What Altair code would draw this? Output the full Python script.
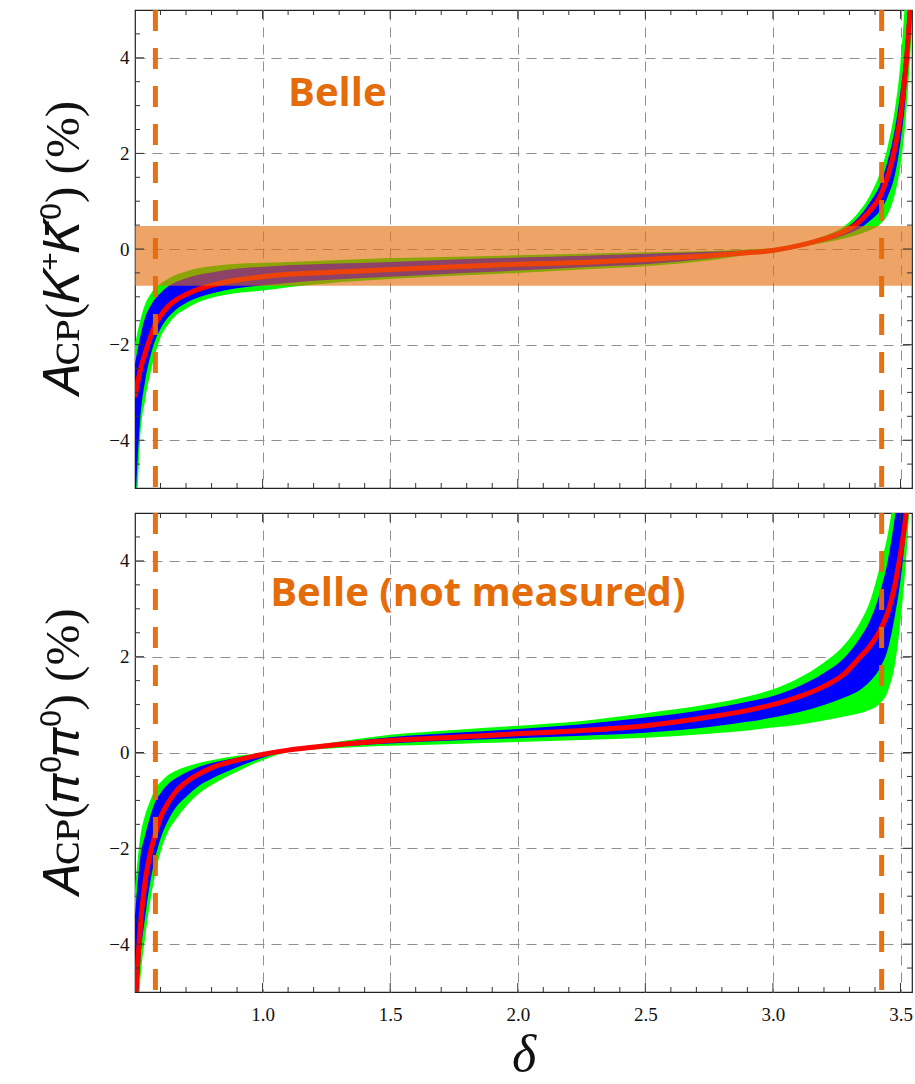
import altair as alt
import pandas as pd

# ---------------- data ----------------
delta = [0.50, 0.52, 0.54, 0.56, 0.58, 0.60, 0.63, 0.66, 0.70, 0.75, 0.80, 0.90,
         1.00, 1.10, 1.25, 1.50, 1.75, 2.00, 2.25, 2.50, 2.75, 2.90, 3.00, 3.10,
         3.20, 3.28, 3.34, 3.38, 3.42, 3.45, 3.48, 3.50, 3.52, 3.545]

# top panel: A_CP(K+ K0bar)
top_red = [-3.1, -2.55, -2.18, -1.85, -1.57, -1.40, -1.20, -1.07, -0.95, -0.84, -0.76, -0.65,
           -0.58, -0.53, -0.49, -0.43, -0.37, -0.32, -0.28, -0.22, -0.14, -0.08, -0.03, 0.07,
           0.21, 0.37, 0.58, 0.80, 1.10, 1.52, 2.16, 2.80, 3.75, 5.6]
top_green_hi = [-2.0, -1.50, -1.15, -0.95, -0.81, -0.72, -0.62, -0.54, -0.47, -0.40, -0.36, -0.31,
                -0.29, -0.27, -0.24, -0.19, -0.16, -0.13, -0.10, -0.07, -0.04, -0.01, 0.02, 0.11,
                0.27, 0.48, 0.80, 1.12, 1.60, 2.15, 3.0, 3.9, 5.4, 8.0]
top_green_lo = [-6.5, -4.0, -3.15, -2.60, -2.18, -1.85, -1.58, -1.39, -1.25, -1.11, -1.02, -0.92,
                -0.87, -0.80, -0.72, -0.63, -0.56, -0.50, -0.43, -0.36, -0.24, -0.12, -0.05, 0.04,
                0.13, 0.22, 0.31, 0.39, 0.52, 0.72, 1.19, 1.75, 2.7, 4.6]
top_blue_hi = [-2.4, -1.85, -1.43, -1.20, -1.03, -0.92, -0.78, -0.69, -0.61, -0.54, -0.49, -0.41,
               -0.37, -0.34, -0.31, -0.27, -0.22, -0.18, -0.14, -0.10, -0.06, -0.03, 0.0, 0.09,
               0.24, 0.42, 0.69, 0.98, 1.35, 1.85, 2.58, 3.3, 4.3, 6.5]
top_blue_lo = [-5.5, -3.6, -2.75, -2.25, -1.90, -1.67, -1.43, -1.27, -1.13, -1.01, -0.93, -0.82,
               -0.76, -0.71, -0.65, -0.58, -0.51, -0.45, -0.38, -0.32, -0.20, -0.10, -0.04, 0.05,
               0.16, 0.29, 0.43, 0.59, 0.80, 1.10, 1.60, 2.25, 3.2, 5.5]

# bottom panel: A_CP(pi0 pi0)
bot_red = [-5.3, -3.70, -2.68, -2.10, -1.70, -1.36, -1.05, -0.82, -0.62, -0.45, -0.32, -0.16,
           -0.04, 0.05, 0.14, 0.25, 0.32, 0.39, 0.46, 0.56, 0.74, 0.88, 1.00, 1.16,
           1.38, 1.64, 1.98, 2.22, 2.55, 2.92, 3.55, 4.15, 4.9, 6.5]
bot_green_hi = [-2.85, -1.78, -1.30, -1.00, -0.75, -0.62, -0.47, -0.38, -0.30, -0.22, -0.16, -0.07,
                0.0, 0.08, 0.19, 0.37, 0.47, 0.56, 0.66, 0.82, 1.01, 1.17, 1.32, 1.55,
                1.88, 2.25, 2.70, 3.15, 3.90, 4.55, 5.6, 6.5, 8.0, 10.0]
bot_green_lo = [-7.0, -4.85, -3.85, -3.10, -2.52, -2.08, -1.65, -1.40, -1.12, -0.86, -0.68, -0.40,
                -0.16, 0.01, 0.08, 0.14, 0.18, 0.22, 0.26, 0.31, 0.39, 0.46, 0.52, 0.58,
                0.67, 0.75, 0.82, 0.89, 1.03, 1.27, 1.90, 2.75, 3.90, 6.0]
bot_blue_hi = [-3.4, -2.22, -1.72, -1.33, -1.02, -0.85, -0.66, -0.54, -0.42, -0.30, -0.22, -0.11,
               -0.02, 0.07, 0.17, 0.32, 0.41, 0.49, 0.59, 0.73, 0.91, 1.06, 1.18, 1.38,
               1.66, 1.98, 2.38, 2.75, 3.35, 4.0, 5.0, 5.9, 7.0, 9.0]
bot_blue_lo = [-6.5, -4.4, -3.42, -2.70, -2.18, -1.80, -1.42, -1.15, -0.93, -0.70, -0.55, -0.31,
               -0.11, 0.03, 0.11, 0.19, 0.25, 0.30, 0.35, 0.41, 0.53, 0.64, 0.73, 0.84,
               0.99, 1.15, 1.30, 1.48, 1.77, 2.15, 2.92, 3.6, 4.6, 6.5]

# Belle band (top panel) and vertical dashed lines
band_lo = [-0.77]
band_hi = [0.48]
vlines = [0.58, 3.426]

# annotation texts
top_note = ["Belle"]
top_note_x = [1.10]
top_note_y = [3.24]
bot_note = ["Belle (not measured)"]
bot_note_x = [1.03]
bot_note_y = [3.31]

# axis ticks
x_major = [1.0, 1.5, 2.0, 2.5, 3.0, 3.5]
x_minor = [0.6, 0.7, 0.8, 0.9, 1.1, 1.2, 1.3, 1.4, 1.6, 1.7, 1.8, 1.9, 2.1, 2.2, 2.3, 2.4,
           2.6, 2.7, 2.8, 2.9, 3.1, 3.2, 3.3, 3.4]
y_major = [-4, -2, 0, 2, 4]
y_minor = [-4.5, -3.5, -3, -2.5, -1.5, -1, -0.5, 0.5, 1, 1.5, 2.5, 3, 3.5, 4.5]

X_DOMAIN = [0.5, 3.545]
Y_DOMAIN = [-5, 5]

ORANGE = "#E46C0A"
W = 777
SERIF = "Liberation Serif"


def panel(red, ghi, glo, bhi, blo, ytitle, note, nx, ny, height, bottom, band):
    xs = alt.Scale(domain=X_DOMAIN, nice=False, zero=False)
    ys = alt.Scale(domain=Y_DOMAIN, nice=False, zero=False)
    if bottom:
        xaxis = alt.Axis(values=x_major, format=".1f", title="δ", labelPadding=13,
                         labelFont=SERIF, labelFontSize=19,
                         titleFont=SERIF, titleFontStyle="italic", titleFontSize=52,
                         titlePadding=5)
    else:
        xaxis = alt.Axis(values=x_major, labels=False, title=None)
    yaxis = alt.Axis(values=y_major, format="d", title=ytitle, labelPadding=6,
                     labelFont=SERIF, labelFontSize=19,
                     titleFont=SERIF, titleAngle=270, titleX=-57, titleY=height / 2,
                     titleBaseline="alphabetic", titleAlign="center", titleFontSize=49)

    def X(f):
        return alt.X(f, scale=xs, axis=xaxis)

    def Y(f):
        return alt.Y(f, scale=ys, axis=yaxis)

    df = pd.DataFrame({"delta": delta, "red": red, "ghi": ghi, "glo": glo,
                       "bhi": bhi, "blo": blo})
    base = alt.Chart(df)
    green = base.mark_area(color="#00FF00", interpolate="monotone", clip=True).encode(
        x=X("delta:Q"), y=Y("glo:Q"), y2="ghi:Q")
    blue = base.mark_area(color="#0000FF", interpolate="monotone", clip=True).encode(
        x=X("delta:Q"), y=Y("blo:Q"), y2="bhi:Q")
    redl = base.mark_line(color="#FF0000", strokeWidth=5, interpolate="monotone",
                          clip=True).encode(x=X("delta:Q"), y=Y("red:Q"))
    layers = [green, blue, redl]
    if band:
        bdf = pd.DataFrame({"lo": band_lo, "hi": band_hi})
        layers.append(alt.Chart(bdf).mark_rect(color=ORANGE, opacity=0.62, clip=True).encode(
            y=Y("lo:Q"), y2="hi:Q"))
    vdf = pd.DataFrame({"x": vlines})
    layers.append(alt.Chart(vdf).mark_rule(color=ORANGE, strokeWidth=5, opacity=0.95,
                                           strokeDash=[21, 17], clip=True).encode(x=X("x:Q")))

    # inward frame ticks: minor 5 px, major 9 px, pushed inside the frame by offsets
    for vals, L in [(x_minor, 5), (x_major, 9)]:
        for edge, off in [(Y_DOMAIN[0], -L / 2), (Y_DOMAIN[1], L / 2)]:
            d = pd.DataFrame({"x": vals, "y": [edge] * len(vals)})
            layers.append(alt.Chart(d).mark_tick(orient="vertical", size=L, thickness=1,
                                                 yOffset=off, color="#333333",
                                                 opacity=1, clip=True).encode(
                x=X("x:Q"), y=Y("y:Q")))
    for vals, L in [(y_minor, 5), (y_major, 9)]:
        for edge, off in [(X_DOMAIN[0], L / 2), (X_DOMAIN[1], -L / 2)]:
            d = pd.DataFrame({"y": vals, "x": [edge] * len(vals)})
            layers.append(alt.Chart(d).mark_tick(orient="horizontal", size=L, thickness=1,
                                                 xOffset=off, color="#333333",
                                                 opacity=1, clip=True).encode(
                x=X("x:Q"), y=Y("y:Q")))

    tdf = pd.DataFrame({"x": nx, "y": ny, "t": note})
    layers.append(alt.Chart(tdf).mark_text(align="left", baseline="middle", font="Open Sans",
                                           fontWeight="bold", fontSize=40, color=ORANGE).encode(
        x=X("x:Q"), y=Y("y:Q"), text="t:N"))
    return alt.layer(*layers).properties(width=W, height=height)


top = panel(top_red, top_green_hi, top_green_lo, top_blue_hi, top_blue_lo,
            "𝐴ᴄᴘ(𝐾⁺𝐾̄⁰) (%)", top_note, top_note_x, top_note_y, 478, False, True)
bottom = panel(bot_red, bot_green_hi, bot_green_lo, bot_blue_hi, bot_blue_lo,
               "𝐴ᴄᴘ(𝜋⁰𝜋⁰) (%)", bot_note, bot_note_x, bot_note_y, 479, True, False)

chart = alt.vconcat(top, bottom, spacing=23).properties(
    padding={"left": 38, "top": 9, "right": 0, "bottom": 0},
    background="white",
).configure_view(
    stroke="#222222", strokeWidth=1.2
).configure_axis(
    grid=True, gridColor="#909090", gridDash=[10, 7], gridWidth=1,
    domain=False, ticks=False,
    labelFont=SERIF, labelFontSize=19, labelColor="#111111",
    titleFont=SERIF, titleFontWeight="normal", titleColor="#111111",
)

chart.save("out.html", embed_options={"renderer": "svg", "actions": False})
